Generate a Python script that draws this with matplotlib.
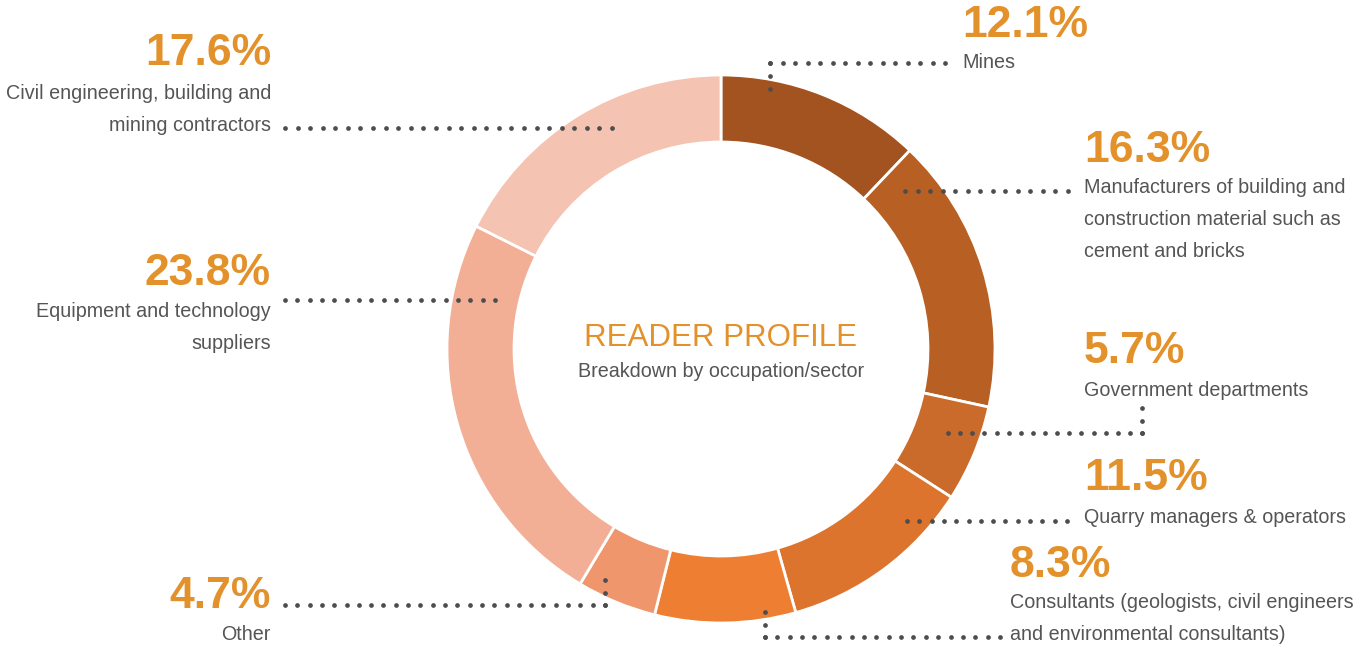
"""
Reader profile donut - breakdown by occupation/sector.
Output: out.png
"""

import numpy as np
import matplotlib
matplotlib.use("Agg")
import matplotlib.pyplot as plt

# -- data -----------------------------------------------------------------------
sectors = [
    "Mines",
    "Manufacturers of building and\nconstruction material such as\ncement and bricks",
    "Government departments",
    "Quarry managers & operators",
    "Consultants (geologists, civil engineers\nand environmental consultants)",
    "Other",
    "Equipment and technology\nsuppliers",
    "Civil engineering, building and\nmining contractors",
]
shares = [12.1, 16.3, 5.7, 11.5, 8.3, 4.7, 23.8, 17.6]
colors = ["#A3531F", "#B86023", "#CA6A2B", "#DC742E",
          "#ED7E32", "#F0966D", "#F2AF95", "#F5C3B2"]

ORANGE = "#E3912A"
GREY   = "#555555"
DOT    = "#4D4D4D"

# -- layout (pixel coords, y down) ---------------------------------------------
W, H   = 1371, 647
CX, CY = 721, 349
R_OUT  = 274
RING   = 67

# label anchors: x, align, percent baseline, first label baseline
label_pos = [
    (962,  "left",  37,  68),
    (1084, "left",  162, 193),
    (1084, "left",  363, 396),
    (1084, "left",  490, 523),
    (1010, "left",  577, 608),
    (271,  "right", 608, 640),
    (271,  "right", 285, 317),
    (271,  "right", 65,  99),
]

# dotted leaders: list of (x0, y0, x1, y1) segments per sector
leaders = [
    [(770, 63, 945, 63), (770, 63, 770, 89)],
    [(905, 191, 1068, 191)],
    [(948, 433, 1142, 433), (1142, 408, 1142, 433)],
    [(907, 521, 1067, 521)],
    [(765, 637, 1000, 637), (765, 612, 765, 637)],
    [(285, 605, 605, 605), (605, 580, 605, 605)],
    [(285, 300, 495, 300)],
    [(285, 128, 612, 128)],
]

fig = plt.figure(figsize=(W / 100, H / 100), dpi=100)
ax = fig.add_axes([0, 0, 1, 1])

# y axis is inverted below, so counterclock + startangle=-90 runs clockwise from top
ax.pie(shares, colors=colors, center=(CX, CY), radius=R_OUT,
       startangle=-90, counterclock=True,
       wedgeprops=dict(width=RING, edgecolor="white", linewidth=2))

ax.set_xlim(0, W)
ax.set_ylim(H, 0)
ax.set_aspect("equal")
ax.axis("off")

# -- leaders --------------------------------------------------------------------
for segs in leaders:
    for x0, y0, x1, y1 in segs:
        n = int(round(np.hypot(x1 - x0, y1 - y0) / 12.4)) + 1
        ax.plot(np.linspace(x0, x1, n), np.linspace(y0, y1, n), "o",
                color=DOT, ms=3.4, mec="none", zorder=3)

# -- labels ---------------------------------------------------------------------
for share, name, (x, ha, yp, yl) in zip(shares, sectors, label_pos):
    ax.text(x, yp, f"{share:.1f}%", ha=ha, va="baseline",
            fontsize=32, fontweight="bold", color=ORANGE,
            family="Liberation Sans")
    for i, line in enumerate(name.split("\n")):
        ax.text(x, yl + 32 * i, line, ha=ha, va="baseline",
                fontsize=14.2, color=GREY, family="Liberation Sans")

# -- centre title ---------------------------------------------------------------
ax.text(CX, 346, "READER PROFILE", ha="center", va="baseline",
        fontsize=22.5, color=ORANGE, family="Liberation Sans")
ax.text(CX, 377, "Breakdown by occupation/sector", ha="center", va="baseline",
        fontsize=14.2, color=GREY, family="Liberation Sans")

fig.savefig("out.png", dpi=100)
plt.close(fig)
